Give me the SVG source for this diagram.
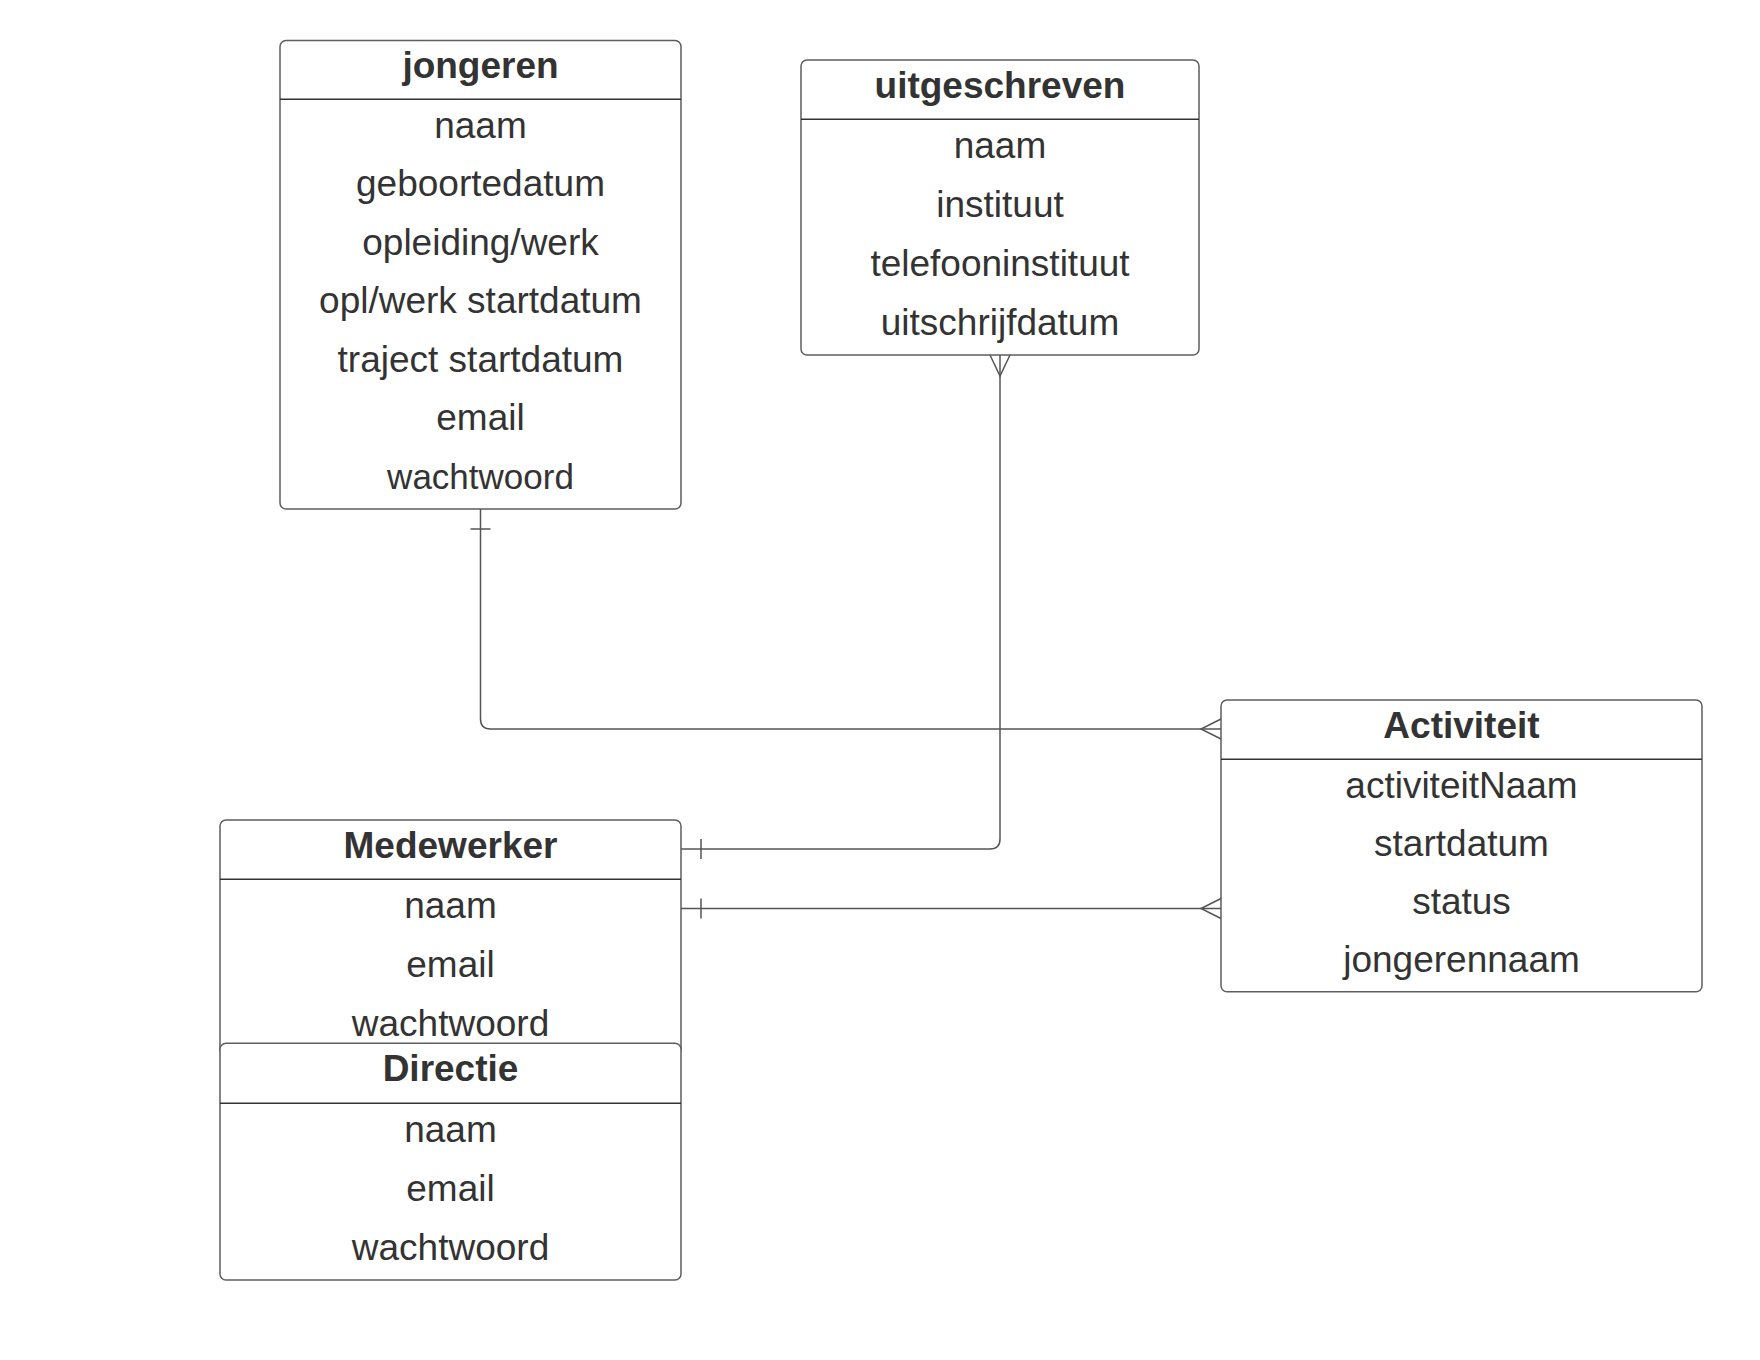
<svg xmlns="http://www.w3.org/2000/svg" width="1760" height="1360" viewBox="0 0 1760 1360">
<style>
.box{fill:#ffffff;stroke:#5e5e5e;stroke-width:1.5}
.div{stroke:#333333;stroke-width:1.5}
.t{font-family:"Liberation Sans",Arial,sans-serif;font-size:37px;fill:#333333;text-anchor:middle}
.h{font-weight:bold}
.c{fill:none;stroke:#555555;stroke-width:1.5}
</style>
<rect width="1760" height="1360" fill="#ffffff"/>
<g id="jongeren">
<rect class="box" x="280" y="40.5" width="401" height="468.5" rx="6"/>
<line class="div" x1="280" y1="99.3" x2="681" y2="99.3"/>
<text class="t h" x="480.5" y="77.5">jongeren</text>
<text class="t" x="480.5" y="137.5">naam</text>
<text class="t" x="480.5" y="196.1">geboortedatum</text>
<text class="t" x="480.5" y="254.6">opleiding/werk</text>
<text class="t" x="480.5" y="313.2">opl/werk startdatum</text>
<text class="t" x="480.5" y="371.8">traject startdatum</text>
<text class="t" x="480.5" y="430.4">email</text>
<text class="t" x="480.5" y="488.9" style="font-size:35px">wachtwoord</text>
</g>
<g id="uitgeschreven">
<rect class="box" x="801" y="60" width="398" height="295" rx="6"/>
<line class="div" x1="801" y1="119.3" x2="1199" y2="119.3"/>
<text class="t h" x="1000" y="98">uitgeschreven</text>
<text class="t" x="1000" y="157.8">naam</text>
<text class="t" x="1000" y="216.7">instituut</text>
<text class="t" x="1000" y="275.6">telefooninstituut</text>
<text class="t" x="1000" y="334.5">uitschrijfdatum</text>
</g>
<g id="Activiteit">
<rect class="box" x="1221" y="700" width="481" height="291.7" rx="6"/>
<line class="div" x1="1221" y1="759.3" x2="1702" y2="759.3"/>
<text class="t h" x="1461.5" y="737.7">Activiteit</text>
<text class="t" x="1461.5" y="797.8">activiteitNaam</text>
<text class="t" x="1461.5" y="855.9">startdatum</text>
<text class="t" x="1461.5" y="914">status</text>
<text class="t" x="1461.5" y="972.1">jongerennaam</text>
</g>
<g id="Medewerker">
<rect class="box" x="220" y="820" width="461" height="236" rx="6"/>
<line class="div" x1="220" y1="879.3" x2="681" y2="879.3"/>
<text class="t h" x="450.5" y="858">Medewerker</text>
<text class="t" x="450.5" y="917.8">naam</text>
<text class="t" x="450.5" y="976.8">email</text>
<text class="t" x="450.5" y="1035.8">wachtwoord</text>
</g>
<g id="Directie">
<rect class="box" x="220" y="1043.3" width="461" height="236.7" rx="6"/>
<line class="div" x1="220" y1="1103.3" x2="681" y2="1103.3"/>
<text class="t h" x="450.5" y="1081">Directie</text>
<text class="t" x="450.5" y="1141.8">naam</text>
<text class="t" x="450.5" y="1200.8">email</text>
<text class="t" x="450.5" y="1259.8">wachtwoord</text>
</g>
<g id="connectors">
<path class="c" d="M480.5,509 V719 Q480.5,729 490.5,729 H1221"/>
<path class="c" d="M470.5,529 H490.5"/>
<path class="c" d="M1221,719 L1201,729 L1221,739"/>
<path class="c" d="M681,849 H990 Q1000,849 1000,839 V355"/>
<path class="c" d="M701,839 V859"/>
<path class="c" d="M990,355 L1000,376 L1010,355"/>
<path class="c" d="M681,908.5 H1221"/>
<path class="c" d="M701,898.5 V918.5"/>
<path class="c" d="M1221,898.5 L1201,908.5 L1221,918.5"/>
</g>
</svg>
